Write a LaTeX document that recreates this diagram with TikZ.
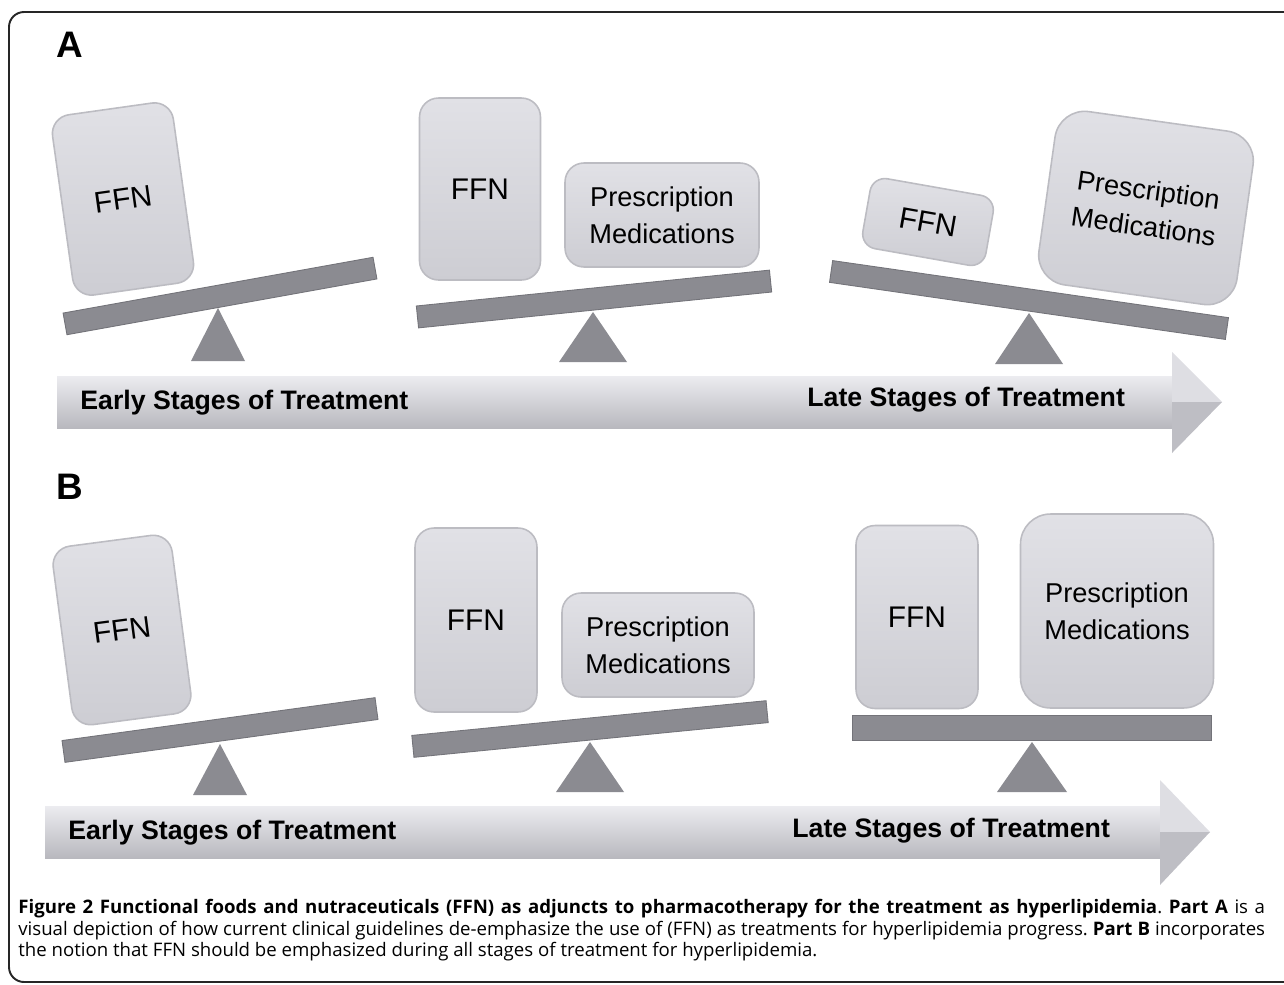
\documentclass[tikz,border=0pt]{standalone}
\usepackage{fontspec}
\setmainfont{Liberation Sans}
\newfontfamily\capfont{Open Sans}
\usetikzlibrary{shapes}

\definecolor{beamgray}{RGB}{139,139,145}
\definecolor{beamedge}{RGB}{115,115,121}
\definecolor{boxtop}{RGB}{225,225,230}
\definecolor{boxbot}{RGB}{205,205,211}
\definecolor{boxedge}{RGB}{188,188,194}
\definecolor{arrowtop}{RGB}{236,236,240}
\definecolor{arrowmid}{RGB}{214,214,219}
\definecolor{arrowbot}{RGB}{184,184,190}
\definecolor{headup}{RGB}{222,222,227}
\definecolor{headdown}{RGB}{190,190,196}

\tikzset{
  weight/.style={draw=boxedge, line width=0.9pt, top color=boxtop, bottom color=boxbot,
    inner sep=0pt, align=center, font=\fontsize{17}{20}\selectfont},
  ffn/.style={weight, rounded corners=0.38cm},
  rx/.style={weight, rounded corners=0.38cm, font=\fontsize{15.5}{21}\selectfont},
  beam/.style={draw=beamedge, fill=beamgray, line width=0.5pt, minimum height=0.44cm, inner sep=0pt},
  stage/.style={font=\bfseries\fontsize{15.2}{18}\selectfont, anchor=west, inner sep=0pt},
  panel/.style={font=\bfseries\fontsize{21}{24}\selectfont, inner sep=0pt},
}

\begin{document}
\frenchspacing
\begin{tikzpicture}[x=0.02cm, y=-0.02cm]
  \useasboundingbox (0,0) rectangle (1284,984);

  % frame %
  \begin{scope}
    \clip (0,0) rectangle (1284,984);
    \draw[line width=1.1pt, rounded corners=0.3cm, black!85] (9,12) rectangle (1330,982);
  \end{scope}

  % panel labels %
  \node[panel] (labA) at (70,45) {A};
  \node[panel] (labB) at (70,487) {B};

  % arrows %
  \shade[top color=arrowtop, middle color=arrowmid, bottom color=arrowbot] (57,376) rectangle (1172,428);
  \fill[headup] (1172,352) -- (1222,402) -- (1172,402) -- cycle;
  \fill[headdown] (1172,402) -- (1222,402) -- (1172,453) -- cycle;
  \shade[top color=arrowtop, middle color=arrowmid, bottom color=arrowbot] (45,806) rectangle (1160,858);
  \fill[headup] (1160,780) -- (1210,832) -- (1160,832) -- cycle;
  \fill[headdown] (1160,832) -- (1210,832) -- (1160,885) -- cycle;

  \node[stage] (earlyA) at (80,403) {Early Stages of Treatment};
  \node[stage] (lateA) at (807,400) {Late Stages of Treatment};
  \node[stage] (earlyB) at (68,833) {Early Stages of Treatment};
  \node[stage] (lateB) at (792,831) {Late Stages of Treatment};

  % panel A: seesaws %
  \fill[beamgray] (218,308) -- (191,361) -- (245,361) -- cycle;
  \fill[beamgray] (593,312) -- (559,362) -- (627,362) -- cycle;
  \fill[beamgray] (1029,313) -- (995,364) -- (1063,364) -- cycle;
  \node[beam, minimum width=6.3cm, rotate=10.2] (beamA1) at (220,296) {};
  \node[beam, minimum width=7.1cm, rotate=5.8] (beamA2) at (594,299) {};
  \node[beam, minimum width=8.0cm, rotate=-8.2] (beamA3) at (1029,300) {};

  \node[ffn, minimum width=2.44cm, minimum height=3.64cm, rotate=8] (ffnA1) at (123,199) {FFN};
  \node[ffn, minimum width=2.42cm, minimum height=3.64cm] (ffnA2) at (480,189) {FFN};
  \node[rx, minimum width=3.88cm, minimum height=2.08cm] (rxA2) at (662,215) {Prescription\\Medications};
  \node[ffn, rounded corners=0.3cm, minimum width=2.5cm, minimum height=1.42cm, rotate=-10] (ffnA3) at (928,222) {FFN};
  \node[rx, rounded corners=0.6cm, minimum width=4.0cm, minimum height=3.5cm, rotate=-8] (rxA3) at (1146,208) {Prescription\\Medications};

  % panel B: seesaws %
  \fill[beamgray] (220,744) -- (193,795) -- (247,795) -- cycle;
  \fill[beamgray] (590,742) -- (556,792) -- (624,792) -- cycle;
  \fill[beamgray] (1032,742) -- (997,792) -- (1067,792) -- cycle;
  \node[beam, minimum width=6.32cm, rotate=7.8] (beamB1) at (220,730) {};
  \node[beam, minimum width=7.12cm, rotate=5.6] (beamB2) at (590,729) {};
  \node[beam, minimum width=7.18cm, minimum height=0.5cm] (beamB3) at (1032,728) {};

  \node[ffn, minimum width=2.4cm, minimum height=3.6cm, rotate=7.5] (ffnB1) at (122,630) {FFN};
  \node[ffn, minimum width=2.44cm, minimum height=3.68cm] (ffnB2) at (476,620) {FFN};
  \node[rx, minimum width=3.84cm, minimum height=2.08cm] (rxB2) at (658,645) {Prescription\\Medications};
  \node[ffn, minimum width=2.44cm, minimum height=3.66cm] (ffnB3) at (917,617) {FFN};
  \node[rx, rounded corners=0.6cm, minimum width=3.86cm, minimum height=3.88cm] (rxB3) at (1117,611) {Prescription\\Medications};

  % caption %
  \node[anchor=north west, text width=24.94cm, align=justify, inner sep=0pt,
        font=\capfont\fontsize{10.6}{12.2}\selectfont] (caption) at (18,899)
    {\hyphenpenalty=10000\relax
     \textbf{Figure 2 Functional foods and nutraceuticals (FFN) as adjuncts to pharmacotherapy for the treatment as hyperlipidemia}. \textbf{Part A} is a\linebreak
     visual depiction of how current clinical guidelines de-emphasize the use of (FFN) as treatments for hyperlipidemia progress. \textbf{Part B} incorporates\linebreak
     the notion that FFN should be emphasized during all stages of treatment for hyperlipidemia.};
\end{tikzpicture}
\end{document}
